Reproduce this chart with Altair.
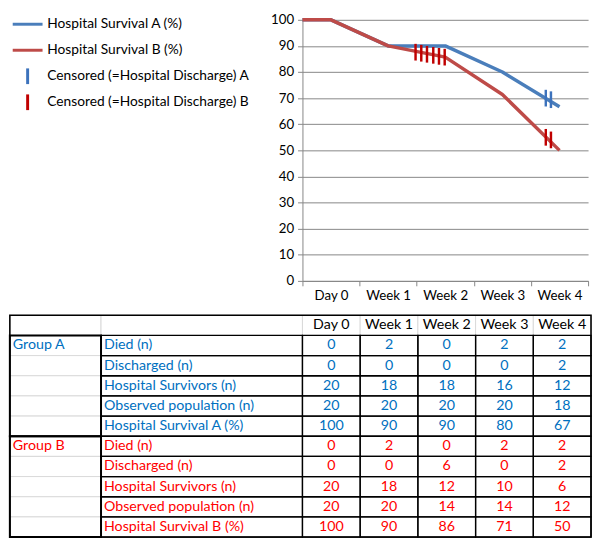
import altair as alt
import pandas as pd

FONT = "Lato"

# ---------------- data ----------------
categories = ["Day 0", "Week 1", "Week 2", "Week 3", "Week 4"]
survival_a = [100, 90, 90, 80, 66.7]
survival_b = [100, 90, 85.7, 71.4, 50]

series_names = ["Hospital Survival A (%)", "Hospital Survival B (%)",
                "Censored (=Hospital Discharge) A", "Censored (=Hospital Discharge) B"]
series_colors = ["#4A7EBB", "#BE4B48", "#3C72BC", "#C00000"]

# censored (discharge) marks: position on the category axis (0..5) and value
censor_a_pos = [4.26, 4.35]
censor_a_val = [70.0, 69.4]
censor_b_pos = [1.98, 2.08, 2.18, 2.29, 2.39, 2.49, 4.26, 4.35]
censor_b_val = [87.6, 87.2, 86.8, 86.4, 86.0, 85.7, 55.0, 54.0]

# table
row_labels_a = ["Died  (n)", "Discharged  (n)", "Hospital Survivors  (n)",
                "Observed population  (n)", "Hospital Survival A (%)"]
row_labels_b = ["Died   (n)", "Discharged  (n)", "Hospital Survivors  (n)",
                "Observed population  (n)", "Hospital Survival B (%)"]
died_a = [0, 2, 0, 2, 2]
discharged_a = [0, 0, 0, 0, 2]
survivors_a = [20, 18, 18, 16, 12]
observed_a = [20, 20, 20, 20, 18]
pct_a = [100, 90, 90, 80, 67]
died_b = [0, 2, 0, 2, 2]
discharged_b = [0, 0, 6, 0, 2]
survivors_b = [20, 18, 12, 10, 6]
observed_b = [20, 20, 14, 14, 12]
pct_b = [100, 90, 86, 71, 50]

# ---------------- line chart ----------------
line_rows = []
for name, vals in [(series_names[0], survival_a), (series_names[1], survival_b)]:
    line_rows.append({"series": name, "pos": 0, "value": vals[0]})  # line starts at the axis origin
    for i, v in enumerate(vals):
        line_rows.append({"series": name, "pos": i + 0.5, "value": v})
line_df = pd.DataFrame(line_rows)

cens_rows = []
for p, v in zip(censor_a_pos, censor_a_val):
    cens_rows.append({"series": series_names[2], "pos": p, "value": v})
for p, v in zip(censor_b_pos, censor_b_val):
    cens_rows.append({"series": series_names[3], "pos": p, "value": v})
cens_df = pd.DataFrame(cens_rows)

PLOT_W, PLOT_H = 291, 266
GRID = "#868686"
LINE_SYM = "M-1.9,0L1.9,0"
TICK_SYM = "M0,-1L0,1"

x_scale = alt.Scale(domain=[0, len(categories)], nice=False)
y_scale = alt.Scale(domain=[0, 100], nice=False)
y_axis = alt.Axis(values=list(range(0, 101, 10)), grid=True, gridColor=GRID, title=None,
                  tickSize=5, tickColor=GRID, domainColor=GRID, labelPadding=4,
                  labelFont=FONT, labelFontSize=13.5, labelColor="black")
color_scale = alt.Scale(domain=series_names, range=series_colors)
shape_scale = alt.Scale(domain=series_names, range=[LINE_SYM, LINE_SYM, TICK_SYM, TICK_SYM])

# category axis (ticks on category boundaries, labels centred)
cat_df = pd.DataFrame({"category": categories, "value": [0] * len(categories)})
cat_axis_layer = alt.Chart(cat_df).mark_point(opacity=0).encode(
    x=alt.X("category:N", sort=categories,
            scale=alt.Scale(type="band", paddingInner=0, paddingOuter=0),
            axis=alt.Axis(tickBand="extent", grid=False, title=None, labelAngle=0,
                          tickSize=5, tickColor=GRID, domainColor=GRID, labelPadding=3,
                          labelFont=FONT, labelFontSize=13.5, labelColor="black")),
    y=alt.Y("value:Q", scale=y_scale, axis=None),
)

lines = alt.Chart(line_df).mark_line(strokeWidth=3.5, strokeJoin="round").encode(
    x=alt.X("pos:Q", scale=x_scale, axis=None),
    y=alt.Y("value:Q", scale=y_scale, axis=y_axis),
    color=alt.Color("series:N", scale=color_scale, legend=None),
)
censored = alt.Chart(cens_df).mark_point(filled=False, shape=TICK_SYM, size=289,
                                         strokeWidth=2.5, strokeJoin="round", opacity=1).encode(
    x=alt.X("pos:Q", scale=x_scale, axis=None),
    y=alt.Y("value:Q", scale=y_scale, axis=y_axis),
    color=alt.Color("series:N", scale=color_scale, legend=None),
)
data_layers = alt.layer(lines, censored)

# legend (drawn with marks, top-left of the figure)
legend_df = pd.DataFrame({"series": series_names})
legend_y = alt.Y("series:N", sort=series_names,
                 scale=alt.Scale(type="point", range=[4.5, 84], padding=0), axis=None)
legend_symbols = alt.Chart(legend_df).mark_point(filled=False, size=256, strokeWidth=3,
                                                 strokeJoin="round", opacity=1).encode(
    x=alt.value(-280), y=legend_y,
    color=alt.Color("series:N", scale=color_scale, legend=None),
    shape=alt.Shape("series:N", scale=shape_scale, legend=None),
)
legend_labels = alt.Chart(legend_df).mark_text(align="left", baseline="middle", font=FONT,
                                               fontSize=14, color="black").encode(
    x=alt.value(-260), y=legend_y, text="series:N")
legend_layer = alt.layer(legend_symbols, legend_labels)

top = alt.layer(cat_axis_layer, data_layers, legend_layer).resolve_scale(
    x="independent", y="independent").properties(width=PLOT_W, height=PLOT_H)

# ---------------- table ----------------
# layout: each data column is 1 unit wide; the two label columns sit left of the plot origin
label_col_widths = [1.58, 3.49]
col_edges = [0, label_col_widths[0], sum(label_col_widths)]
col_edges += [col_edges[-1] + k + 1 for k in range(len(categories))]
n_rows = 11
groups = [("Group A", "A", row_labels_a, [died_a, discharged_a, survivors_a, observed_a, pct_a]),
          ("Group B", "B", row_labels_b, [died_b, discharged_b, survivors_b, observed_b, pct_b])]

light_cells, body_cells = [], []
for r in range(n_rows):
    for c in range(len(col_edges) - 1):
        d = dict(r0=r, r1=r + 1, c0=col_edges[c], c1=col_edges[c + 1])
        if r == 0 or c == 0:
            light_cells.append(d)
        else:
            body_cells.append(d)
blocks = [dict(r0=1, r1=6, c0=col_edges[0], c1=col_edges[1]),
          dict(r0=6, r1=11, c0=col_edges[0], c1=col_edges[1])]
outer = [dict(r0=0, r1=n_rows, c0=col_edges[0], c1=col_edges[-1])]

left_text, center_text = [], []
for j, cat in enumerate(categories):
    center_text.append(dict(text=cat, row=0.5, xpos=(col_edges[2 + j] + col_edges[3 + j]) / 2, grp="header"))
for g, (gname, key, labels, vals) in enumerate(groups):
    base = 1 + 5 * g
    left_text.append(dict(text=gname, row=base + 0.5, xpos=col_edges[0], grp=key))
    for i, lab in enumerate(labels):
        left_text.append(dict(text=lab, row=base + i + 0.5, xpos=col_edges[1], grp=key))
        for j, v in enumerate(vals[i]):
            center_text.append(dict(text=str(v), row=base + i + 0.5,
                                    xpos=(col_edges[2 + j] + col_edges[3 + j]) / 2, grp=key))

DATA_COL_W = 58.8
tx = alt.Scale(domain=[col_edges[2], col_edges[-1]], nice=False)
ty = alt.Scale(domain=[0, n_rows], nice=False, reverse=True)
text_color = alt.Color("grp:N", scale=alt.Scale(domain=["header", "A", "B"],
                                                range=["black", "#0070C0", "#FF0000"]), legend=None)


def rect_layer(rows, **mark):
    return alt.Chart(pd.DataFrame(rows)).mark_rect(**mark).encode(
        x=alt.X("c0:Q", scale=tx, axis=None), x2="c1:Q",
        y=alt.Y("r0:Q", scale=ty, axis=None), y2="r1:Q")


t_light = rect_layer(light_cells, fill="white", stroke="#D9D9D9", strokeWidth=1)
t_body = rect_layer(body_cells, fillOpacity=0, stroke="black", strokeWidth=1.3)
t_blocks = rect_layer(blocks, fillOpacity=0, stroke="black", strokeWidth=2)
t_outer = rect_layer(outer, fillOpacity=0, stroke="black", strokeWidth=1.6)
t_left = alt.Chart(pd.DataFrame(left_text)).mark_text(
    align="left", baseline="middle", dx=3, font=FONT, fontSize=14.5).encode(
    x=alt.X("xpos:Q", scale=tx, axis=None), y=alt.Y("row:Q", scale=ty, axis=None),
    text="text:N", color=text_color)
t_center = alt.Chart(pd.DataFrame(center_text)).mark_text(
    align="center", baseline="middle", font=FONT, fontSize=14.5).encode(
    x=alt.X("xpos:Q", scale=tx, axis=None), y=alt.Y("row:Q", scale=ty, axis=None),
    text="text:N", color=text_color)

table = alt.layer(t_light, t_body, t_blocks, t_outer, t_left, t_center).properties(
    width=DATA_COL_W * (col_edges[-1] - col_edges[2]), height=226)

chart = alt.vconcat(top, table, spacing=12).properties(
    padding={"left": 0, "top": 0, "right": 0, "bottom": 0})
chart = chart.resolve_scale(color="independent")
chart = chart.configure(padding={"left": 0, "top": 0, "right": 0, "bottom": 0}).configure_view(stroke=None)

chart.save("out.html", embed_options={"renderer": "svg", "actions": False})
